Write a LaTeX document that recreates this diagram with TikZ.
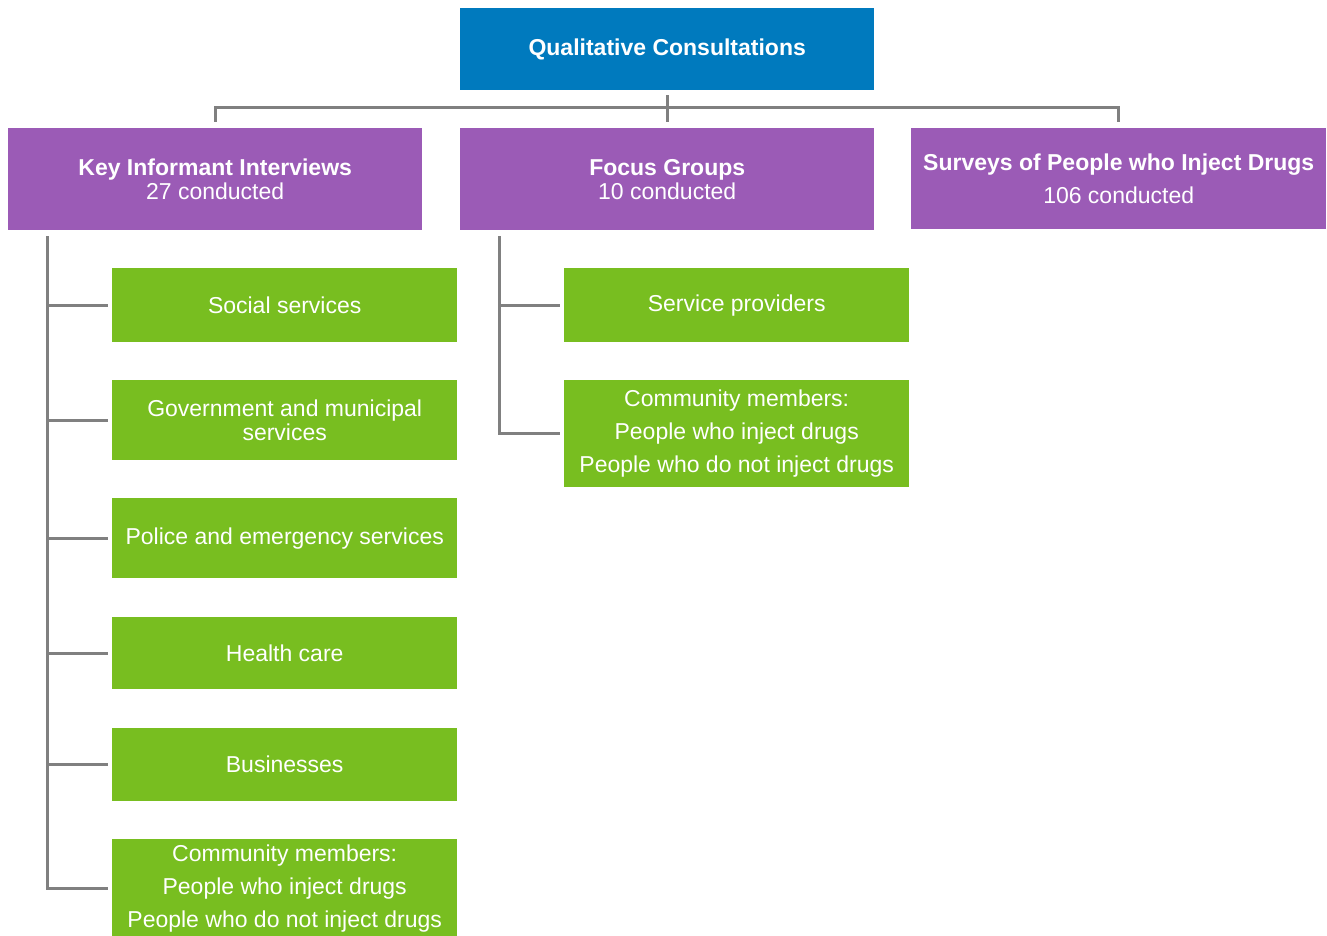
\documentclass[tikz,border=0pt]{standalone}
\usepackage{fontspec}
\setmainfont{Liberation Sans}
\definecolor{topblue}{RGB}{0,122,190}
\definecolor{purp}{RGB}{155,91,182}
\definecolor{grn}{RGB}{120,190,32}
\definecolor{conn}{RGB}{128,128,128}
\begin{document}
\begin{tikzpicture}[x=1pt,y=-1pt,
  box/.style={rectangle, inner sep=0pt, text=white, align=center, anchor=north west},
  topbox/.style={box, fill=topblue, minimum width=414pt, minimum height=82pt, font=\fontsize{23}{24}\selectfont\bfseries},
  headbox/.style={box, fill=purp, minimum width=414pt, minimum height=102pt, font=\fontsize{23}{24}\selectfont},
  leafbox/.style={box, fill=grn, minimum width=345pt, font=\fontsize{23}{33}\selectfont},
  link/.style={draw=conn, line width=3pt, line join=miter}]
\useasboundingbox (0,0) rectangle (1327,936);
\fill[white] (0,0) rectangle (1327,936);

\node[topbox] (top) at (460,8) {Qualitative Consultations};

\node[headbox] (kii) at (8,128) {\textbf{Key Informant Interviews}\\27 conducted};
\node[headbox] (fg) at (460,128) {\textbf{Focus Groups}\\10 conducted};
\node[headbox, minimum width=415pt, minimum height=101pt, font=\fontsize{23}{33}\selectfont] (sv) at (911,128) {\textbf{Surveys of People who Inject Drugs}\\106 conducted};

\node[leafbox, minimum height=74pt] (c1) at (112,268) {Social services};
\node[leafbox, minimum height=80pt, font=\fontsize{23}{24}\selectfont] (c2) at (112,380) {Government and municipal\\services};
\node[leafbox, minimum height=80pt] (c3) at (112,498) {Police and emergency services};
\node[leafbox, minimum height=72pt] (c4) at (112,617) {Health care};
\node[leafbox, minimum height=73pt] (c5) at (112,728) {Businesses};
\node[leafbox, minimum height=99pt] (c6) at (112,839) {Community members:\\People who inject drugs\\People who do not inject drugs};

\node[leafbox, minimum height=107pt] (f1) at (564,268) [minimum height=74pt] {Service providers};
\node[leafbox, minimum height=107pt] (f2) at (564,380) {Community members:\\People who inject drugs\\People who do not inject drugs};

% top connectors
\draw[link] ([yshift=-5pt]top.south) -- ([yshift=6pt]fg.north);
\draw[link] ([yshift=6pt]kii.north) -- ++(0,-14) -| ([yshift=6pt]sv.north);

% key informant tree
\coordinate (kspine) at ([xshift=39pt,yshift=-6pt]kii.south west);
\draw[link] (kspine) |- ([xshift=-4pt]c6.west);
\foreach \n in {c1,c2,c3,c4,c5}
  \draw[link] (kspine |- \n.west) -- ([xshift=-4pt]\n.west);

% focus group tree
\coordinate (fspine) at ([xshift=39pt,yshift=-6pt]fg.south west);
\draw[link] (fspine) |- ([xshift=-4pt]f2.west);
\draw[link] (fspine |- f1.west) -- ([xshift=-4pt]f1.west);
\end{tikzpicture}
\end{document}
